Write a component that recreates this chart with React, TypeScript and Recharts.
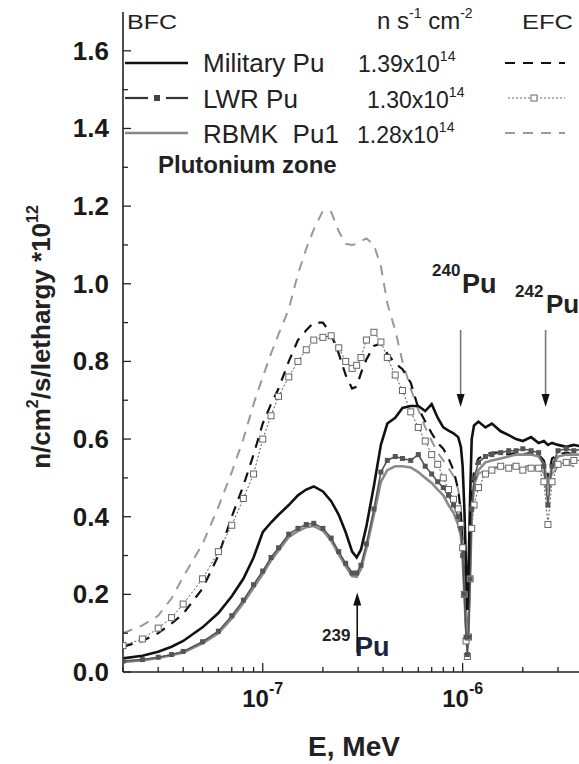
import React from 'react'
import { Line, LineChart, XAxis, YAxis } from 'recharts'

// energy grid, MeV
const energy = [
  2.0e-8, 2.5e-8, 3.0e-8, 3.5e-8, 4.0e-8, 5.0e-8, 6.0e-8, 7.0e-8, 8.0e-8, 9.0e-8,
  1.0e-7, 1.1e-7, 1.2e-7, 1.35e-7, 1.5e-7, 1.65e-7, 1.8e-7, 2.0e-7, 2.2e-7, 2.4e-7,
  2.6e-7, 2.8e-7, 2.95e-7, 3.1e-7, 3.3e-7, 3.6e-7, 3.9e-7, 4.2e-7, 4.6e-7, 5.0e-7,
  5.5e-7, 6.0e-7, 6.5e-7, 7.0e-7, 7.5e-7, 8.0e-7, 8.5e-7, 9.0e-7, 9.5e-7, 9.8e-7,
  1.0e-6, 1.02e-6, 1.04e-6, 1.056e-6, 1.07e-6, 1.09e-6, 1.11e-6, 1.14e-6, 1.2e-6, 1.3e-6,
  1.4e-6, 1.55e-6, 1.7e-6, 1.85e-6, 2.0e-6, 2.2e-6, 2.4e-6, 2.55e-6, 2.67e-6, 2.8e-6,
  3.0e-6, 3.3e-6, 3.6e-6, 4.0e-6,
]

// BFC
const bfcMilitary = [
  0.035, 0.042, 0.052, 0.065, 0.08, 0.115, 0.152, 0.195, 0.24, 0.295,
  0.36, 0.385, 0.405, 0.43, 0.455, 0.47, 0.478, 0.465, 0.44, 0.405,
  0.36, 0.31, 0.295, 0.315, 0.375, 0.48, 0.585, 0.64, 0.655, 0.68,
  0.685, 0.685, 0.672, 0.69, 0.655, 0.63, 0.622, 0.615, 0.605, 0.58,
  0.53, 0.42, 0.27, 0.16, 0.26, 0.45, 0.6, 0.635, 0.645, 0.63,
  0.64, 0.62, 0.61, 0.6, 0.595, 0.605, 0.59, 0.595, 0.585, 0.59,
  0.585, 0.58, 0.585, 0.58,
]
const bfcLwr = [
  0.028, 0.032, 0.038, 0.045, 0.053, 0.078, 0.105, 0.145, 0.185, 0.225,
  0.26, 0.295, 0.32, 0.355, 0.37, 0.38, 0.383, 0.37, 0.345, 0.31,
  0.28, 0.255, 0.255, 0.275, 0.33, 0.42, 0.515, 0.545, 0.555, 0.55,
  0.545, 0.56, 0.53, 0.51, 0.49, 0.475, 0.455, 0.43, 0.4, 0.37,
  0.3, 0.2, 0.09, 0.045, 0.09, 0.24, 0.42, 0.5, 0.54, 0.555,
  0.56, 0.565, 0.57, 0.57, 0.575, 0.57, 0.565, 0.53, 0.43, 0.53,
  0.57, 0.575, 0.57, 0.575,
]
const bfcRbmk = [
  0.026, 0.03, 0.036, 0.043, 0.05, 0.074, 0.1, 0.138, 0.178, 0.217,
  0.252, 0.287, 0.313, 0.348, 0.363, 0.373, 0.376, 0.364, 0.338, 0.303,
  0.272, 0.247, 0.245, 0.265, 0.318, 0.405, 0.49, 0.52, 0.53, 0.53,
  0.527, 0.515, 0.5, 0.487, 0.47, 0.455, 0.43, 0.41, 0.38, 0.35,
  0.29, 0.2, 0.11, 0.075, 0.11, 0.25, 0.4, 0.48, 0.52, 0.54,
  0.545, 0.55, 0.555, 0.56, 0.56, 0.56, 0.555, 0.535, 0.48, 0.53,
  0.555, 0.56, 0.56, 0.56,
]

// EFC
const efcMilitary = [
  0.065, 0.08, 0.1, 0.125, 0.15, 0.215, 0.3, 0.4, 0.48, 0.56,
  0.64, 0.69, 0.73, 0.8, 0.855, 0.88, 0.9, 0.9, 0.87, 0.82,
  0.765, 0.73, 0.735, 0.77, 0.805, 0.84, 0.846, 0.82, 0.795, 0.78,
  0.745, 0.68, 0.645, 0.615, 0.59, 0.575, 0.55, 0.52, 0.47, 0.41,
  0.33, 0.22, 0.12, 0.08, 0.12, 0.28, 0.45, 0.52, 0.55, 0.56,
  0.565, 0.565, 0.56, 0.565, 0.56, 0.565, 0.56, 0.545, 0.5, 0.55,
  0.56, 0.565, 0.56, 0.565,
]
const efcLwr = [
  0.068, 0.085, 0.113, 0.14, 0.175, 0.24, 0.31, 0.378, 0.447, 0.51,
  0.6, 0.66, 0.71, 0.76, 0.8, 0.83, 0.855, 0.862, 0.866, 0.835,
  0.8, 0.782, 0.79, 0.81, 0.855, 0.875, 0.85, 0.81, 0.765, 0.725,
  0.67, 0.63, 0.595, 0.56, 0.535, 0.5, 0.47, 0.445, 0.42, 0.38,
  0.32, 0.2, 0.08, 0.04, 0.09, 0.24, 0.37, 0.43, 0.475, 0.51,
  0.52, 0.53, 0.525, 0.53, 0.52, 0.525, 0.525, 0.49, 0.38, 0.49,
  0.535, 0.54, 0.545, 0.545,
]
const efcRbmk = [
  0.1, 0.12, 0.145, 0.19, 0.245, 0.33, 0.425, 0.515, 0.6, 0.69,
  0.76, 0.82, 0.87, 0.935, 1.025, 1.09, 1.14, 1.188, 1.185, 1.135,
  1.103, 1.1, 1.103, 1.11, 1.117, 1.1, 1.045, 0.95, 0.88, 0.8,
  0.73, 0.675, 0.63, 0.595, 0.565, 0.545, 0.525, 0.505, 0.47, 0.42,
  0.35, 0.26, 0.16, 0.12, 0.16, 0.3, 0.42, 0.48, 0.51, 0.52,
  0.525, 0.53, 0.53, 0.535, 0.53, 0.53, 0.53, 0.51, 0.47, 0.51,
  0.53, 0.535, 0.53, 0.535,
]

const xTicks = [
  2e-8, 3e-8, 4e-8, 5e-8, 6e-8, 7e-8, 8e-8, 9e-8,
  1e-7, 2e-7, 3e-7, 4e-7, 5e-7, 6e-7, 7e-7, 8e-7, 9e-7,
  1e-6, 2e-6, 3e-6, 4e-6,
]
const yTicks = [0, 0.1, 0.2, 0.3, 0.4, 0.5, 0.6, 0.7, 0.8, 0.9, 1.0, 1.1, 1.2, 1.3, 1.4, 1.5, 1.6]

const data = energy.map((e, i) => ({
  e,
  bfcMilitary: bfcMilitary[i],
  bfcLwr: bfcLwr[i],
  bfcRbmk: bfcRbmk[i],
  efcMilitary: efcMilitary[i],
  efcLwr: efcLwr[i],
  efcRbmk: efcRbmk[i],
}))

const FONT = '"Liberation Sans", Arial, sans-serif'
const AXIS = '#222'

// layout
const W = 700
const H = 764
const PL = 123
const PR = 583
const PT = 12
const PB = 672
const X_MIN = 2e-8
const X_MAX = 4e-6
const Y_MAX = 1.7

// for annotations only
const px = (e: number) =>
  PL + ((Math.log10(e) - Math.log10(X_MIN)) / (Math.log10(X_MAX) - Math.log10(X_MIN))) * (PR - PL)
const py = (v: number) => PB - (v / Y_MAX) * (PB - PT)

const isDecade = (v: number) => Math.abs(Math.log10(v) - Math.round(Math.log10(v))) < 1e-6

const BottomTick = (props: any) => {
  const { x, y, payload } = props
  const major = isDecade(payload.value)
  return (
    <g>
      <line x1={x} x2={x} y1={y} y2={y - (major ? 9 : 5)} stroke={AXIS} strokeWidth={1.3} />
      {major && (
        <text x={x} y={y + 35} textAnchor="middle" fontFamily={FONT} fontWeight="bold" fontSize={24} fill="#1a1a1a">
          10<tspan dy={-13} fontSize={16}>{Math.round(Math.log10(payload.value))}</tspan>
        </text>
      )}
    </g>
  )
}

const TopTick = (props: any) => {
  const { x, y, payload } = props
  const major = isDecade(payload.value)
  return <line x1={x} x2={x} y1={y} y2={y + (major ? 9 : 5)} stroke={AXIS} strokeWidth={1.3} />
}

const LeftTick = (props: any) => {
  const { x, y, payload } = props
  const major = Math.round(payload.value * 10) % 2 === 0
  return (
    <g>
      <line x1={x} x2={x + (major ? 8 : 5)} y1={y} y2={y} stroke={AXIS} strokeWidth={1.3} />
      {major && (
        <text x={x - 14} y={y + 9} textAnchor="end" fontFamily={FONT} fontWeight="bold" fontSize={26} fill="#1a1a1a">
          {payload.value.toFixed(1)}
        </text>
      )}
    </g>
  )
}

const RightTick = (props: any) => {
  const { x, y, payload } = props
  const major = Math.round(payload.value * 10) % 2 === 0
  return <line x1={x} x2={x - (major ? 8 : 5)} y1={y} y2={y} stroke={AXIS} strokeWidth={1.3} />
}

const filledSquare = (p: any) => (
  <rect key={`f${p.index}`} x={p.cx - 2.5} y={p.cy - 2.5} width={5} height={5} fill="#555" />
)
const openSquare = (p: any) => (
  <rect key={`o${p.index}`} x={p.cx - 3} y={p.cy - 3} width={6} height={6} fill="#fff" stroke="#666" strokeWidth={1} />
)

const Arrow = ({ x, y1, y2 }: { x: number; y1: number; y2: number }) => {
  const dir = y2 > y1 ? 1 : -1
  return (
    <g>
      <line x1={x} x2={x} y1={y1} y2={y2 - dir * 10} stroke={dir > 0 ? '#777' : '#111'} strokeWidth={1.6} />
      <polygon points={`${x - 4},${y2 - dir * 13} ${x + 4},${y2 - dir * 13} ${x},${y2}`} fill="#111" />
    </g>
  )
}

const Overlay = () => (
  <svg width={579} height={764} style={{ position: 'absolute', left: 0, top: 0, pointerEvents: 'none' }}>
    <g fontFamily={FONT} fill="#222">
      {/* legend header */}
      <text x={127} y={29} fontSize={20} textLength={50} lengthAdjust="spacingAndGlyphs">BFC</text>
      <text x={377} y={29} fontSize={24}>
        n s<tspan dy={-11} fontSize={14}>-1</tspan><tspan dy={11}> cm</tspan><tspan dy={-11} fontSize={14}>-2</tspan>
      </text>
      <text x={522} y={29} fontSize={20} textLength={51} lengthAdjust="spacingAndGlyphs">EFC</text>

      {/* BFC samples */}
      <line x1={125} x2={188} y1={63} y2={63} stroke="#111" strokeWidth={2.6} />
      <line x1={125} x2={148} y1={98} y2={98} stroke="#333" strokeWidth={2.2} />
      <rect x={154} y={95} width={6} height={6} fill="#444" />
      <line x1={166} x2={188} y1={98} y2={98} stroke="#333" strokeWidth={2.2} />
      <line x1={125} x2={188} y1={133} y2={133} stroke="#888" strokeWidth={2.6} />

      <text x={203} y={72} fontSize={26}>Military Pu</text>
      <text x={203} y={108} fontSize={26}>LWR Pu</text>
      <text x={203} y={143} fontSize={26}>RBMK{'\u00a0\u00a0'}Pu1</text>

      <text x={358} y={72} fontSize={23}>1.39x10<tspan dy={-11} fontSize={14}>14</tspan></text>
      <text x={367} y={108} fontSize={23}>1.30x10<tspan dy={-11} fontSize={14}>14</tspan></text>
      <text x={357} y={143} fontSize={23}>1.28x10<tspan dy={-11} fontSize={14}>14</tspan></text>

      {/* EFC samples */}
      <line x1={505} x2={565} y1={63} y2={63} stroke="#111" strokeWidth={2} strokeDasharray="10 8" />
      <line x1={508} x2={565} y1={98} y2={98} stroke="#666" strokeWidth={1} strokeDasharray="2 2" />
      <rect x={531} y={95} width={6} height={6} fill="#fff" stroke="#666" strokeWidth={1} />
      <line x1={505} x2={565} y1={133} y2={133} stroke="#999" strokeWidth={2} strokeDasharray="10 8" />

      <text x={158} y={173} fontSize={24} fontWeight="bold">Plutonium zone</text>

      {/* resonance labels */}
      <text x={432} y={276} fontSize={17} fontWeight="bold">240</text>
      <text x={462} y={293} fontSize={27} fontWeight="bold">Pu</text>
      <Arrow x={px(9.77e-7)} y1={330} y2={407} />

      <text x={515} y={297} fontSize={17} fontWeight="bold">242</text>
      <text x={546} y={313} fontSize={26} fontWeight="bold">Pu</text>
      <Arrow x={px(2.6e-6)} y1={330} y2={407} />

      <text x={322} y={641} fontSize={17} fontWeight="bold">239</text>
      <text x={355} y={656} fontSize={27} fontWeight="bold" fill="#1c2440">Pu</text>
      <Arrow x={px(2.97e-7)} y1={py(0.05)} y2={py(0.205)} />

      {/* axis titles */}
      <text x={354} y={756} textAnchor="middle" fontSize={28} fontWeight="bold">E, MeV</text>
      <text
        transform={`translate(50, 337) rotate(-90)`}
        textAnchor="middle"
        fontSize={26}
        fontWeight="bold"
      >
        n/cm<tspan dy={-12} fontSize={16}>2</tspan><tspan dy={12}>/s/lethargy *10</tspan><tspan dy={-12} fontSize={16}>12</tspan>
      </text>
    </g>
  </svg>
)

export default function App() {
  return (
    <div style={{ position: 'absolute', left: 0, top: 0, width: 579, height: 764, overflow: 'hidden', background: '#fff' }}>
      <LineChart width={W} height={H} data={data} margin={{ top: PT, right: W - PR, bottom: 0, left: 0 }}>
        <XAxis
          xAxisId="b"
          dataKey="e"
          type="number"
          scale="log"
          domain={[X_MIN, X_MAX]}
          allowDataOverflow
          ticks={xTicks}
          interval={0}
          tickSize={0}
          tickMargin={0}
          tick={<BottomTick />}
          height={H - PB}
          axisLine={{ stroke: AXIS, strokeWidth: 1.6 }}
        />
        <XAxis
          xAxisId="t"
          orientation="top"
          dataKey="e"
          type="number"
          scale="log"
          domain={[X_MIN, X_MAX]}
          allowDataOverflow
          ticks={xTicks}
          interval={0}
          tickSize={0}
          tickMargin={0}
          tick={<TopTick />}
          height={0}
          axisLine={{ stroke: AXIS, strokeWidth: 1.6 }}
        />
        <YAxis
          yAxisId="l"
          type="number"
          domain={[0, Y_MAX]}
          ticks={yTicks}
          interval={0}
          tickSize={0}
          tickMargin={0}
          tick={<LeftTick />}
          width={PL}
          axisLine={{ stroke: AXIS, strokeWidth: 1.6 }}
        />
        <YAxis
          yAxisId="r"
          orientation="right"
          type="number"
          domain={[0, Y_MAX]}
          ticks={yTicks}
          interval={0}
          tickSize={0}
          tickMargin={0}
          tick={<RightTick />}
          width={0}
          axisLine={{ stroke: AXIS, strokeWidth: 1.6 }}
        />

        <Line xAxisId="b" yAxisId="l" type="linear" dataKey="efcRbmk" stroke="#999" strokeWidth={2} strokeDasharray="10 8" dot={false} isAnimationActive={false} />
        <Line xAxisId="b" yAxisId="l" type="linear" dataKey="efcMilitary" stroke="#111" strokeWidth={2.2} strokeDasharray="10 8" dot={false} isAnimationActive={false} />
        <Line xAxisId="b" yAxisId="l" type="linear" dataKey="efcLwr" stroke="#555" strokeWidth={1} strokeDasharray="2 2" dot={openSquare} isAnimationActive={false} />
        <Line xAxisId="b" yAxisId="l" type="linear" dataKey="bfcRbmk" stroke="#8a8a8a" strokeWidth={2.6} dot={false} isAnimationActive={false} />
        <Line xAxisId="b" yAxisId="l" type="linear" dataKey="bfcLwr" stroke="#555" strokeWidth={1.6} dot={filledSquare} isAnimationActive={false} />
        <Line xAxisId="b" yAxisId="l" type="linear" dataKey="bfcMilitary" stroke="#111" strokeWidth={2.6} dot={false} isAnimationActive={false} />
      </LineChart>
      <Overlay />
    </div>
  )
}
